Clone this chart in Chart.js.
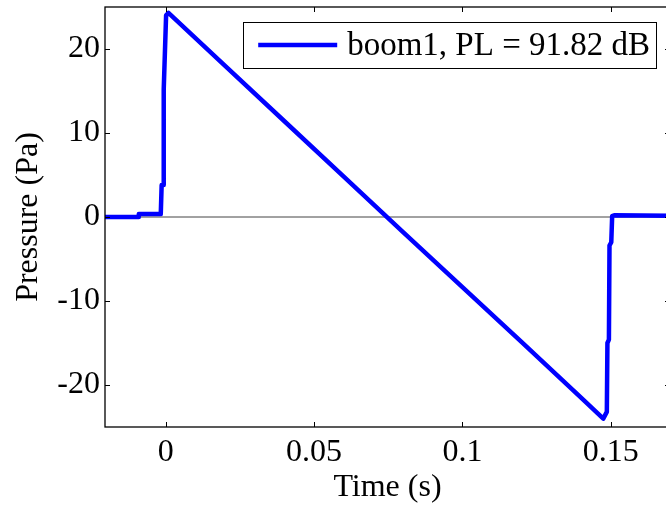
<!DOCTYPE html>
<html>
<head>
<meta charset="utf-8">
<title>boom1 pressure signature</title>
<script src="https://cdn.jsdelivr.net/npm/chart.js@4/dist/chart.umd.min.js"></script>
<style>
  html, body { margin: 0; padding: 0; background: #fff; overflow: hidden; }
  #wrap { width: 666px; height: 507px; overflow: hidden; }
</style>
</head>
<body>
<div id="wrap">
  <canvas id="boomChart" width="674" height="507"></canvas>
</div>
<script>
// data
const timeS = [-0.0205, -0.0093, -0.0091, -0.0017, -0.0014, -0.0009, -0.0007, 0.0001, 0.0009,
  0.02, 0.04, 0.06, 0.08, 0.10, 0.12, 0.14, 0.1475, 0.1487, 0.1489, 0.1494, 0.1496, 0.1502,
  0.1505, 0.1512, 0.17];
const pressurePa = [0.0, 0.0, 0.35, 0.35, 3.8, 3.8, 15.2, 24.0, 24.3,
  18.0, 11.4, 4.8, -1.8, -8.35, -14.9, -21.5, -24.0, -23.2, -15.0, -14.6, -3.4, -3.0,
  0.1, 0.2, 0.15];
const xTicks = [0, 0.05, 0.1, 0.15];
const yTicks = [-20, -10, 0, 10, 20];
const xRange = [-0.0205, 0.17];
const yRange = [-25, 25];
const legendLabel = 'boom1, PL = 91.82 dB';

const SERIF = '"Liberation Serif", "Times New Roman", serif';
const BLUE = '#0000ff';

/**
 * frame + inward tick marks, MATLAB style
 */
const boxAxesPlugin = {
  id: 'boxAxes',
  afterDatasetsDraw(chart) {
    const { ctx, chartArea: a, scales } = chart;
    const len = 5;
    ctx.save();
    ctx.strokeStyle = '#000';
    ctx.lineWidth = 1.3;
    ctx.strokeRect(a.left, a.top, a.right - a.left, a.bottom - a.top);
    ctx.beginPath();
    xTicks.forEach(v => {
      const px = Math.round(scales.x.getPixelForValue(v)) + 0.5;
      ctx.moveTo(px, a.bottom); ctx.lineTo(px, a.bottom - len);
      ctx.moveTo(px, a.top); ctx.lineTo(px, a.top + len);
    });
    yTicks.forEach(v => {
      const py = Math.round(scales.y.getPixelForValue(v)) + 0.5;
      ctx.moveTo(a.left, py); ctx.lineTo(a.left + len, py);
      ctx.moveTo(a.right, py); ctx.lineTo(a.right - len, py);
    });
    ctx.lineWidth = 1;
    ctx.stroke();
    ctx.restore();
  }
};

/**
 * boxed legend sitting inside the plot, top right
 */
const boxLegendPlugin = {
  id: 'boxLegend',
  afterDraw(chart) {
    const { ctx, chartArea: a } = chart;
    ctx.save();
    ctx.font = '33px ' + SERIF;
    const textW = ctx.measureText(legendLabel).width;
    const right = a.right - 14;
    const left = right - (15 + 79 + 10 + textW + 6);
    const top = a.top + 15;
    const h = 46;

    ctx.fillStyle = '#fff';
    ctx.fillRect(left, top, right - left, h);
    ctx.strokeStyle = '#000';
    ctx.lineWidth = 1;
    ctx.strokeRect(Math.round(left) + 0.5, Math.round(top) + 0.5, Math.round(right - left), h);

    // line sample
    ctx.strokeStyle = BLUE;
    ctx.lineWidth = 4.5;
    ctx.beginPath();
    ctx.moveTo(left + 15, top + h / 2);
    ctx.lineTo(left + 94, top + h / 2);
    ctx.stroke();

    ctx.fillStyle = '#000';
    ctx.textBaseline = 'middle';
    ctx.fillText(legendLabel, left + 104, top + h / 2 + 1);
    ctx.restore();
  }
};

function setupChart() {
  const canvas = document.getElementById('boomChart');
  const points = timeS.map((t, i) => ({ x: t, y: pressurePa[i] }));

  new Chart(canvas, {
    type: 'line',
    data: {
      datasets: [{
        label: legendLabel,
        data: points,
        borderColor: BLUE,
        borderWidth: 4.5,
        pointRadius: 0,
        tension: 0,
        borderJoinStyle: 'round',
        order: 1
      }, {
        label: 'zero',
        data: [{ x: xRange[0], y: 0 }, { x: xRange[1], y: 0 }],
        borderColor: '#444444',
        borderWidth: 1,
        pointRadius: 0,
        order: 2
      }]
    },
    options: {
      responsive: false,
      devicePixelRatio: 1,
      animation: false,
      layout: { padding: { top: 7, right: 4, left: 0, bottom: 0 } },
      plugins: {
        legend: { display: false },
        tooltip: { enabled: false }
      },
      scales: {
        x: {
          type: 'linear',
          min: xRange[0],
          max: xRange[1],
          afterBuildTicks: scale => { scale.ticks = xTicks.map(v => ({ value: v })); },
          afterFit: scale => {
            scale.height = 80;
            scale.paddingLeft = 0;
            scale.paddingRight = 0;
          },
          grid: { display: false, drawTicks: false },
          border: { display: false },
          ticks: {
            color: '#000',
            font: { family: SERIF, size: 32 },
            padding: 6,
            maxRotation: 0,
            autoSkip: false,
            callback: v => String(v)
          },
          title: {
            display: true,
            text: 'Time (s)',
            color: '#000',
            font: { family: SERIF, size: 32 },
            padding: { top: 0, bottom: 0 }
          }
        },
        y: {
          type: 'linear',
          min: yRange[0],
          max: yRange[1],
          afterBuildTicks: scale => { scale.ticks = yTicks.map(v => ({ value: v })); },
          afterFit: scale => {
            scale.width = 105;
            scale.paddingTop = 0;
            scale.paddingBottom = 0;
          },
          grid: { display: false, drawTicks: false },
          border: { display: false },
          ticks: {
            color: '#000',
            font: { family: SERIF, size: 32 },
            padding: 5,
            autoSkip: false,
            callback: v => String(v)
          },
          title: {
            display: true,
            text: 'Pressure (Pa)',
            color: '#000',
            font: { family: SERIF, size: 32 },
            padding: { top: 9, bottom: 0 }
          }
        }
      }
    },
    plugins: [boxAxesPlugin, boxLegendPlugin]
  });
}

document.addEventListener('DOMContentLoaded', setupChart);
</script>
</body>
</html>
